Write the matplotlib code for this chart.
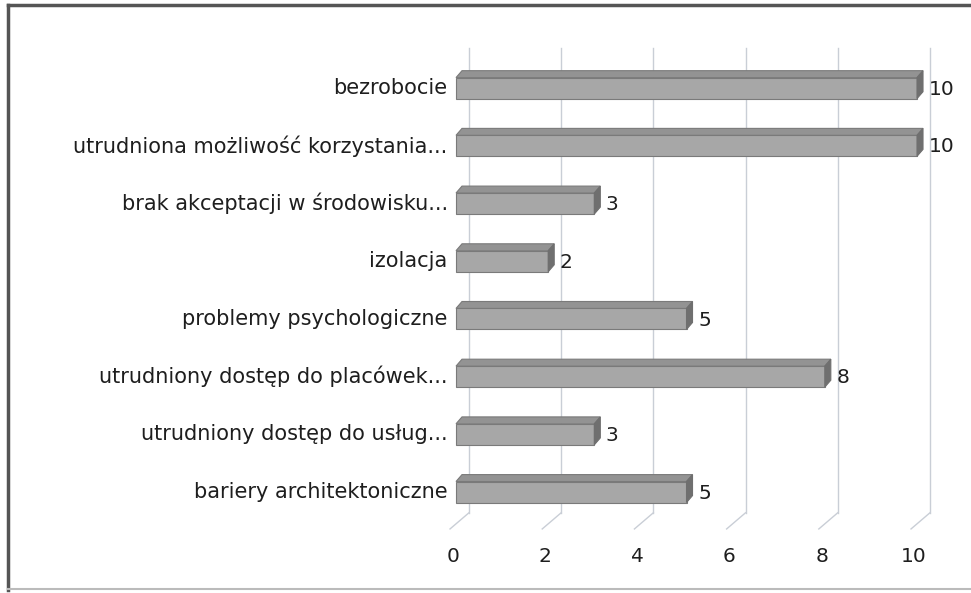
import numpy as np
import matplotlib
matplotlib.use('Agg')
import matplotlib.pyplot as plt
from matplotlib.patches import Polygon

# Data (top to bottom as in the chart)
categories = [
    'bezrobocie',
    'utrudniona możliwość korzystania...',
    'brak akceptacji w środowisku...',
    'izolacja',
    'problemy psychologiczne',
    'utrudniony dostęp do placówek...',
    'utrudniony dostęp do usług...',
    'bariery architektoniczne',
]
values = [10, 10, 3, 2, 5, 8, 3, 5]
ticks = [0, 2, 4, 6, 8, 10]

# Style / 3D geometry (in data units)
bar_half = 0.182      # half height of the front face
dx_bar, dy_bar = 0.13, 0.12   # bar depth offset
dx_wall = 0.28        # back wall offset
dx_floor, dy_floor = -0.41, -0.28
wall_top, wall_bottom = 7.69, -0.36
c_front = '#a7a7a7'
c_top = '#939393'
c_side = '#6f6f6f'
c_edge = '#7a7a7a'
c_grid = '#c9ced6'
c_text = '#1e1e1e'

plt.rcParams['font.family'] = ['DejaVu Sans']

fig = plt.figure(figsize=(9.71, 5.93), dpi=100)
ax = fig.add_axes([0, 0, 1, 1])
ax.set_xlim(-9.892, 11.171)
ax.set_ylim(-1.750, 8.527)
ax.axis('off')

# back wall gridlines + floor lines
for t in ticks:
    ax.plot([t + dx_wall, t + dx_wall], [wall_top, wall_bottom], color=c_grid, lw=1, zorder=1)
    ax.plot([t + dx_wall, t + dx_wall + dx_floor], [wall_bottom, wall_bottom + dy_floor],
            color=c_grid, lw=1, zorder=1)
    ax.text(t - 0.07, -1.11, str(t), ha='center', va='center', fontsize=14.5, color=c_text)

n = len(categories)
for k, (cat, v) in enumerate(zip(categories, values)):
    y = n - 1 - k
    lo, hi = y - bar_half, y + bar_half
    front = Polygon([(0, lo), (v, lo), (v, hi), (0, hi)], closed=True,
                    facecolor=c_front, edgecolor=c_edge, lw=0.8, zorder=3)
    top = Polygon([(0, hi), (v, hi), (v + dx_bar, hi + dy_bar), (dx_bar, hi + dy_bar)], closed=True,
                  facecolor=c_top, edgecolor=c_edge, lw=0.8, zorder=3)
    side = Polygon([(v, lo), (v, hi), (v + dx_bar, hi + dy_bar), (v + dx_bar, lo + dy_bar)], closed=True,
                   facecolor=c_side, edgecolor=c_side, lw=0.8, zorder=3)
    for p in (front, top, side):
        ax.add_patch(p)
    ax.text(v + dx_bar + 0.12, y - 0.02, str(v), ha='left', va='center', fontsize=14.5, color=c_text)
    ax.text(-0.18, y, cat, ha='right', va='center', fontsize=15, color=c_text)

# outer frame
ax.plot([8 / 971, 8 / 971], [1 - 5 / 593, 1 - 590 / 593], transform=ax.transAxes, color='#555555', lw=2.5)
ax.plot([8 / 971, 1], [1 - 5 / 593, 1 - 5 / 593], transform=ax.transAxes, color='#555555', lw=2.5)
ax.plot([8 / 971, 1], [1 - 589 / 593, 1 - 589 / 593], transform=ax.transAxes, color='#bbbbbb', lw=1.5)

fig.savefig('out.png', dpi=100)
